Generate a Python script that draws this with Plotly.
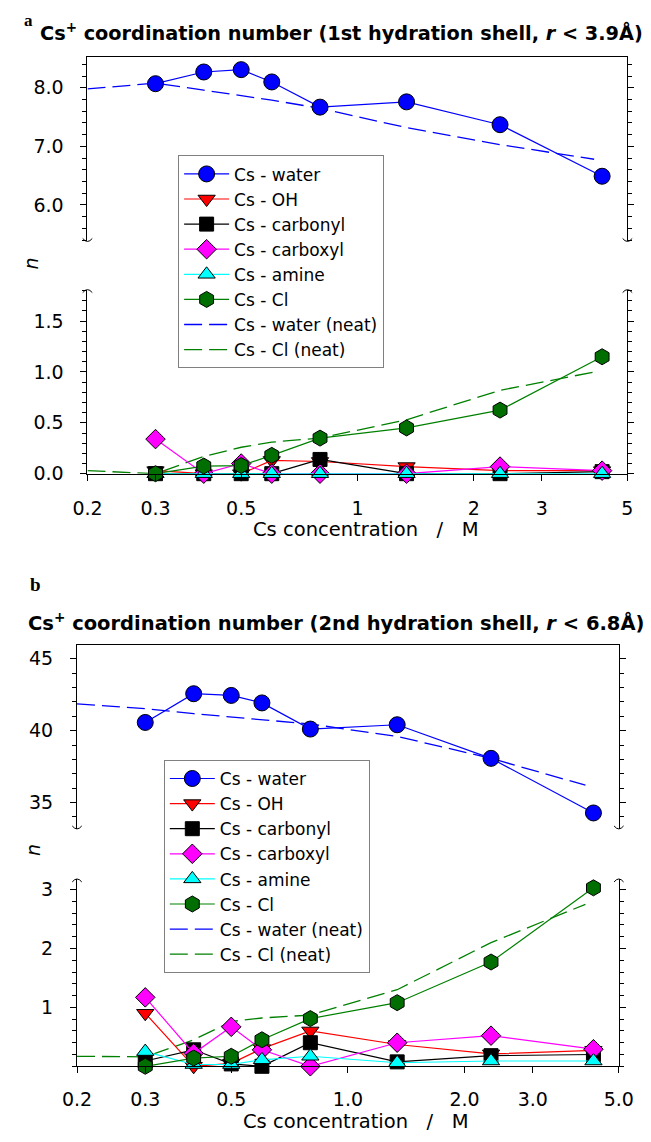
import math
import plotly.graph_objects as go

# ---------------- data ----------------
conc = [0.3, 0.4, 0.5, 0.6, 0.8, 1.34, 2.34, 4.3]
neat_conc = [0.2, 0.3, 0.4, 0.5, 0.6, 0.8, 1.34, 2.34, 4.1]

# panel a (1st shell)
a_water = [8.07, 8.27, 8.31, 8.10, 7.67, 7.76, 7.37, 6.49]
a_oh = [0.03, 0.0, 0.0, 0.13, 0.12, 0.07, 0.03, 0.03]
a_carbonyl = [0.0, 0.0, 0.0, 0.0, 0.14, 0.0, 0.0, 0.02]
a_carboxyl = [0.34, 0.0, 0.1, 0.0, 0.0, 0.0, 0.07, 0.03]
a_amine = [0.0, 0.0, 0.0, 0.0, 0.0, 0.0, 0.0, 0.0]
a_cl = [0.0, 0.075, 0.08, 0.18, 0.35, 0.45, 0.625, 1.15]
a_water_neat = [7.98, 8.08, 7.96, 7.87, 7.79, 7.65, 7.32, 7.03, 6.78]
a_cl_neat = [0.03, 0.0, 0.17, 0.26, 0.31, 0.35, 0.53, 0.82, 1.0]

# panel b (2nd shell)
b_water = [40.57, 42.57, 42.45, 41.93, 40.11, 40.41, 38.07, 34.27]
b_oh = [0.90, 0.0, 0.05, 0.30, 0.60, 0.37, 0.21, 0.27]
b_carbonyl = [0.09, 0.28, 0.04, 0.0, 0.40, 0.075, 0.18, 0.20]
b_carboxyl = [1.17, 0.22, 0.67, 0.28, 0.0, 0.40, 0.52, 0.29]
b_amine = [0.25, 0.03, 0.03, 0.11, 0.17, 0.06, 0.09, 0.09]
b_cl = [0.0, 0.14, 0.17, 0.45, 0.81, 1.08, 1.77, 3.03]
b_water_neat = [41.87, 41.53, 41.18, 40.95, 40.8, 40.46, 39.6, 38.07, 36.2]
b_cl_neat = [0.17, 0.16, 0.45, 0.76, 0.82, 0.87, 1.3, 2.1, 2.75]

names = ["Cs - water", "Cs - OH", "Cs - carbonyl", "Cs - carboxyl", "Cs - amine", "Cs - Cl"]
line_colors = ["#0000FF", "#FF0000", "#000000", "#FF00FF", "#00FFFF", "#008000"]
fill_colors = ["#0000FF", "#FF0000", "#000000", "#FF00FF", "#00FFFF", "#006E00"]
symbols = ["circle", "triangle-down", "square", "diamond", "triangle-up", "hexagon"]
sizes = [16, 15, 14, 15, 15, 16]

xa_tickvals = [0.2, 0.3, 0.5, 1, 2, 3, 5]
xa_ticktext = ["0.2", "0.3", "0.5", "1", "2", "3", "5"]
xb_ticktext = ["0.2", "0.3", "0.5", "1.0", "2.0", "3.0", "5.0"]

# ---------------- layout helpers ----------------
W, H = 651, 1142
FONT = "DejaVu Sans"


def px(x):
    return x / W


def py(y):
    return 1 - y / H


fig = go.Figure()

# panel positions (pixels)
PA_X = (76, 642)
PA_UP = (57, 243)
PA_LO = (291.7, 477.7)
PB_X = (65, 633)
PB_UP = (651, 836.7)
PB_LO = (887.3, 1076.6)


def add_panel(series, water_neat, cl_neat, xax_lo, yax_lo, xax_up, yax_up, legend):
    # neat dashed lines first (drawn below the markers)
    fig.add_trace(go.Scatter(x=neat_conc, y=water_neat, mode="lines", name="Cs - water (neat)",
                             line=dict(color="#0000FF", width=1.3, dash="18px,7px"),
                             xaxis=xax_up, yaxis=yax_up, legend=legend, legendrank=7))
    fig.add_trace(go.Scatter(x=neat_conc, y=cl_neat, mode="lines", name="Cs - Cl (neat)",
                             line=dict(color="#008000", width=1.3, dash="18px,7px"),
                             xaxis=xax_lo, yaxis=yax_lo, legend=legend, legendrank=8))
    for i, ys in enumerate(series):
        up = i == 0
        fig.add_trace(go.Scatter(
            x=conc, y=ys, mode="lines+markers", name=names[i],
            line=dict(color=line_colors[i], width=1.2),
            marker=dict(symbol=symbols[i], size=sizes[i], color=fill_colors[i],
                        line=dict(color="black", width=1)),
            cliponaxis=False,
            xaxis=xax_up if up else xax_lo, yaxis=yax_up if up else yax_lo,
            legend=legend, legendrank=i + 1))


add_panel([a_water, a_oh, a_carbonyl, a_carboxyl, a_amine, a_cl], a_water_neat, a_cl_neat,
          "x", "y", "x2", "y2", "legend")
add_panel([b_water, b_oh, b_carbonyl, b_carboxyl, b_amine, b_cl], b_water_neat, b_cl_neat,
          "x3", "y3", "x4", "y4", "legend2")

xr = [math.log10(0.2), math.log10(5)]
tickfont = dict(family=FONT, size=19, color="black")


def xaxis_lo(dom, ticktext, anchor, standoff):
    return dict(type="log", range=xr, domain=dom, anchor=anchor,
                tickvals=xa_tickvals, ticktext=ticktext, ticks="outside", ticklen=6,
                tickcolor="black", showline=True, linecolor="black", linewidth=1,
                showgrid=False, zeroline=False, tickfont=tickfont, mirror=False,
                ticklabelstandoff=standoff)


def xaxis_up(dom, anchor):
    return dict(type="log", range=xr, domain=dom, anchor=anchor, side="top",
                showline=True, linecolor="black", linewidth=1, ticks="",
                showticklabels=False, showgrid=False, zeroline=False)


def yaxis(dom, rng, tickvals, fmt, minor_dt, anchor):
    return dict(range=rng, domain=dom, anchor=anchor, tickvals=tickvals,
                ticktext=[format(v, fmt) for v in tickvals],
                ticks="outside", ticklen=6, tickcolor="black",
                minor=dict(dtick=minor_dt, ticks="outside", ticklen=4, tickcolor="black",
                           showgrid=False),
                showline=True, linecolor="black", linewidth=1, mirror="ticks",
                showgrid=False, zeroline=False, tickfont=tickfont, ticklabelstandoff=13)


legend_common = dict(xanchor="left", yanchor="top", bordercolor="#808080", borderwidth=1,
                     bgcolor="white", font=dict(family=FONT, size=17, color="black"),
                     tracegroupgap=0, itemwidth=45)

fig.update_layout(
    width=W, height=H, margin=dict(l=0, r=0, t=0, b=0),
    paper_bgcolor="white", plot_bgcolor="white",
    font=dict(family=FONT, color="black"),
    xaxis=xaxis_lo([px(PA_X[0]), px(PA_X[1])], xa_ticktext, "y", 12),
    yaxis=yaxis([py(PA_LO[1]), py(PA_LO[0])], [0, 1.81], [0.0, 0.5, 1.0, 1.5], ".1f", 0.1, "x"),
    xaxis2=xaxis_up([px(PA_X[0]), px(PA_X[1])], "y2"),
    yaxis2=yaxis([py(PA_UP[1]), py(PA_UP[0])], [5.377, 8.519], [6.0, 7.0, 8.0], ".1f", 0.2, "x2"),
    xaxis3=xaxis_lo([px(PB_X[0]), px(PB_X[1])], xb_ticktext, "y3", 10),
    yaxis3=yaxis([py(PB_LO[1]), py(PB_LO[0])], [0, 3.18], [1, 2, 3], "d", 0.2, "x3"),
    xaxis4=xaxis_up([px(PB_X[0]), px(PB_X[1])], "y4"),
    yaxis4=yaxis([py(PB_UP[1]), py(PB_UP[0])], [33.16, 45.95], [35, 40, 45], "d", 1, "x4"),
    legend=dict(x=px(171), y=py(156), **legend_common),
    legend2=dict(x=px(156), y=py(767), **legend_common),
    showlegend=True,
)

ann = []


def text(x, y, s, size, **kw):
    d = dict(x=px(x), y=py(y), xref="paper", yref="paper", text=s, showarrow=False,
             xanchor="center", yanchor="middle",
             font=dict(family=kw.pop("family", FONT), size=size, color="black"))
    d.update(kw)
    ann.append(d)


text(14, 20, "<b>a</b>", 17, family="Liberation Serif")
text(342, 31, "<b>Cs<sup>+</sup> coordination number (1st hydration shell, <i>r</i> &lt; 3.9Å)</b>", 19.3)
text(21, 590, "<b>b</b>", 19, family="Liberation Serif")
text(337, 628, "<b>Cs<sup>+</sup> coordination number (2nd hydration shell, <i>r</i> &lt; 6.8Å)</b>", 19.5)
text(368, 534, "Cs concentration\u00a0\u00a0\u00a0/\u00a0\u00a0\u00a0M", 19.5)
text(357, 1132, "Cs concentration\u00a0\u00a0\u00a0/\u00a0\u00a0\u00a0M", 19.5)
text(17, 265, "<i>n</i>", 19, textangle=-90)
text(19, 858, "<i>n</i>", 19, textangle=-90)
fig.update_layout(annotations=ann)

# broken-axis marks
shapes = []
for (xl, xrr), yb, yt in [(PA_X, PA_UP[1], PA_LO[0]), (PB_X, PB_UP[1], PB_LO[0])]:
    for xx in (xl, xrr):
        for yy, sgn in ((yb, 1), (yt, -1)):
            path = "M {:.5f},{:.5f} Q {:.5f},{:.5f} {:.5f},{:.5f}".format(
                px(xx - 5), py(yy - sgn * 3), px(xx), py(yy + sgn * 3), px(xx + 5), py(yy - sgn * 3))
            shapes.append(dict(type="path", path=path, xref="paper", yref="paper",
                               line=dict(color="black", width=1)))
fig.update_layout(shapes=shapes)

fig.write_html("out.html")
